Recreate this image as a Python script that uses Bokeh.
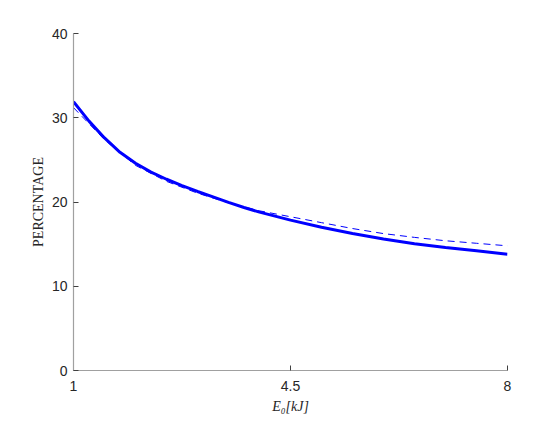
from bokeh.plotting import figure
from bokeh.embed import file_html
from bokeh.resources import INLINE
from bokeh.models import Range1d, FixedTicker

# Data
x_solid = [1.0, 1.25, 1.5, 1.75, 2.0, 2.25, 2.5, 2.75, 3.0, 3.25, 3.5, 3.75, 4.0, 4.5, 5.0, 5.5, 6.0, 6.5, 7.0, 7.5, 8.0]
y_solid = [31.9, 29.6, 27.6, 25.9, 24.6, 23.55, 22.7, 21.95, 21.25, 20.6, 19.95, 19.35, 18.8, 17.85, 17.0, 16.25, 15.6, 15.05, 14.6, 14.2, 13.8]

x_dash = [1.0, 1.5, 2.0, 2.5, 3.0, 3.5, 4.0, 4.5, 5.0, 5.5, 6.0, 6.5, 7.0, 7.5, 8.0]
y_dash = [31.2, 27.4, 24.35, 22.45, 21.05, 19.9, 18.95, 18.25, 17.55, 16.85, 16.25, 15.8, 15.4, 15.1, 14.8]

x_ticks = [1, 4.5, 8]
y_ticks = [0, 10, 20, 30, 40]

p = figure(width=553, height=416, output_backend="svg", toolbar_location=None,
           x_range=Range1d(1, 8), y_range=Range1d(0, 40),
           min_border_left=73, min_border_right=46, min_border_top=33, min_border_bottom=40)
p.outline_line_color = None
p.xgrid.visible = False
p.ygrid.visible = False
p.background_fill_color = "white"
p.border_fill_color = "white"

p.line(x_dash, y_dash, line_color="#0000ff", line_width=1, line_dash="7 5")
p.line(x_solid, y_solid, line_color="#0000ff", line_width=3)

for ax in (p.xaxis[0], p.yaxis[0]):
    ax.axis_line_color = "#a0a0a0"
    ax.axis_line_width = 1.2
    ax.major_tick_line_color = "#404040"
    ax.major_tick_in = 5
    ax.major_tick_out = 0
    ax.minor_tick_line_color = None
    ax.major_label_text_font = "Liberation Sans"
    ax.major_label_text_font_size = "14px"
    ax.major_label_text_color = "#262626"

p.xaxis.major_label_standoff = 10
p.yaxis.major_label_standoff = 6

p.xaxis.ticker = FixedTicker(ticks=x_ticks)
p.yaxis.ticker = FixedTicker(ticks=y_ticks)
p.xaxis.major_label_overrides = {1: "1", 4.5: "4.5", 8: "8"}

p.yaxis.axis_label = "PERCENTAGE"
p.yaxis.axis_label_text_font = "Liberation Serif"
p.yaxis.axis_label_text_font_style = "normal"
p.yaxis.axis_label_text_font_size = "14px"
p.yaxis.axis_label_text_color = "#262626"
p.yaxis.axis_label_standoff = 3

p.xaxis.axis_label = "E\u2080[kJ]"
p.xaxis.axis_label_text_font = "Liberation Serif"
p.xaxis.axis_label_text_font_style = "italic"
p.xaxis.axis_label_text_font_size = "14px"
p.xaxis.axis_label_text_color = "#262626"
p.xaxis.axis_label_standoff = 5

open("out.html", "w").write(file_html(p, INLINE))
